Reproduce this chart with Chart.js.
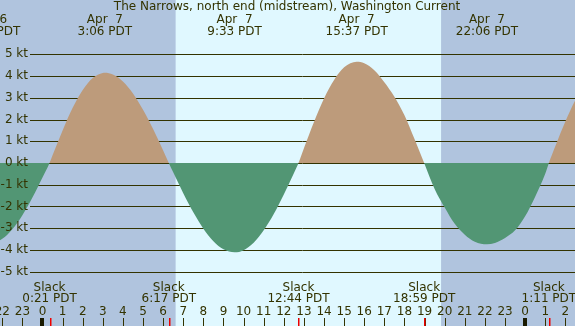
<!DOCTYPE html>
<html>
<head>
<meta charset="utf-8">
<script src="https://cdn.jsdelivr.net/npm/chart.js@4"></script>
<style>
  html, body { margin: 0; padding: 0; background: #b0c4de; }
  canvas { display: block; }
</style>
</head>
<body>
<canvas id="current" width="575" height="326"></canvas>
<script>
// hours from Apr 7 00:00 PDT, speed in knots
const hours = [-3.0, -2.65, -2.5, -2.0, -1.5, -1.0, -0.5, 0,
    0.35, 0.5, 1.0, 1.5, 2.0, 2.5, 3.0, 3.1, 3.5, 4.0, 4.5, 5.0, 5.5, 6.0, 6.28,
    6.5, 7.0, 7.5, 8.0, 8.5, 9.0, 9.55, 10.0, 10.5, 11.0, 11.5, 12.0, 12.5, 12.73,
    13.0, 13.5, 14.0, 14.5, 15.0, 15.62, 16.0, 16.5, 17.0, 17.5, 18.0, 18.5, 18.98,
    19.5, 20.0, 20.5, 21.0, 21.5, 22.1, 22.5, 23.0, 23.5, 24.0, 24.5, 25.0, 25.18,
    25.5, 26.0, 26.5, 27.0];
const knots = [-3.68, -3.7, -3.69, -3.49, -3.05, -2.40, -1.59, -0.67,
    0, 0.36, 1.50, 2.54, 3.36, 3.91, 4.14, 4.15, 4.07, 3.75, 3.20, 2.45, 1.56, 0.57, 0,
    -0.43, -1.39, -2.27, -3.02, -3.60, -3.97, -4.11, -4.01, -3.67, -3.10, -2.35, -1.45, -0.47, 0,
    0.68, 1.89, 2.97, 3.82, 4.40, 4.66, 4.59, 4.27, 3.72, 3.05, 2.2, 1.1, 0,
    -1.2, -2.05, -2.8, -3.3, -3.62, -3.74, -3.68, -3.45, -3.1, -2.45, -1.55, -0.5, 0,
    0.77, 1.91, 2.90, 3.67];

const maxHours = [-2.65, 3.10, 9.55, 15.62, 22.10];
const maxDays = ['Apr  6', 'Apr  7', 'Apr  7', 'Apr  7', 'Apr  7'];
const maxLabels = ['21:21 PDT', '3:06 PDT', '9:33 PDT', '15:37 PDT', '22:06 PDT'];

const slackHours = [0.35, 6.28, 12.73, 18.98, 25.18];
const slackLabels = ['0:21 PDT', '6:17 PDT', '12:44 PDT', '18:59 PDT', '1:11 PDT'];

const sunrise = 6.62;
const sunset = 19.82;
const kts = [5, 4, 3, 2, 1, 0, -1, -2, -3, -4, -5];

const ink = '#333300';
const font = '12px "DejaVu Sans"';

const drawing = {
    id: 'drawing',
    beforeDraw(chart) {
        const c = chart.ctx, x = chart.scales.x, a = chart.chartArea;
        c.save();
        c.fillStyle = '#b0c4de';
        c.fillRect(0, 0, chart.width, chart.height);
        c.fillStyle = '#e0f8ff';
        const x1 = x.getPixelForValue(sunrise), x2 = x.getPixelForValue(sunset);
        c.fillRect(x1, a.top, x2 - x1, a.bottom - a.top);
        c.restore();
    },
    beforeDatasetsDraw(chart) {
        const c = chart.ctx, y = chart.scales.y;
        c.save();
        c.strokeStyle = ink;
        c.lineWidth = 1;
        kts.forEach(k => {
            const py = Math.round(y.getPixelForValue(k)) + 0.5;
            c.beginPath();
            c.moveTo(30, py);
            c.lineTo(chart.width, py);
            c.stroke();
        });
        c.restore();
    },
    afterDatasetsDraw(chart) {
        const c = chart.ctx, x = chart.scales.x, y = chart.scales.y;
        c.save();
        c.fillStyle = ink;
        c.font = font;
        c.textBaseline = 'middle';

        // y labels
        c.textAlign = 'right';
        kts.forEach(k => c.fillText(k + ' kt', 28, y.getPixelForValue(k)));

        c.textAlign = 'center';
        c.fillText('The Narrows, north end (midstream), Washington Current', 287, 7);

        maxHours.forEach((h, i) => {
            const px = x.getPixelForValue(h);
            c.fillText(maxDays[i], px, 20);
            c.fillText(maxLabels[i], px, 32);
        });

        slackHours.forEach((h, i) => {
            const px = x.getPixelForValue(h);
            c.fillText('Slack', px, 288);
            c.fillText(slackLabels[i], px, 299);
        });

        // hour numbers and ticks
        for (let h = Math.ceil(x.min); h <= Math.floor(x.max); h++) {
            const px = x.getPixelForValue(h);
            c.fillStyle = ink;
            c.fillText(String((h + 24) % 24), px, 312);
            if (h % 24 === 0) {
                c.fillStyle = '#1a1a00';
                c.fillRect(Math.round(px) - 2, 318, 4, 8);
            } else {
                c.fillRect(Math.round(px), 318, 1, 8);
            }
        }
        c.fillStyle = '#ee0000';
        slackHours.forEach(h => {
            c.fillRect(Math.round(x.getPixelForValue(h)), 318, 1.5, 8);
        });
        c.restore();
    }
};

new Chart(document.getElementById('current'), {
    type: 'line',
    data: {
        datasets: [{
            data: hours.map((h, i) => ({ x: h, y: knots[i] })),
            borderWidth: 0,
            borderColor: 'rgba(0,0,0,0)',
            pointRadius: 0,
            cubicInterpolationMode: 'monotone',
            fill: { target: 'origin', above: '#bd9b7b', below: '#529674' }
        }]
    },
    options: {
        responsive: false,
        animation: false,
        devicePixelRatio: 1,
        layout: { padding: 0 },
        plugins: { legend: { display: false }, tooltip: { enabled: false } },
        scales: {
            x: { type: 'linear', display: false, min: -2.113, max: 26.48 },
            y: { type: 'linear', display: false, min: -7.5, max: 7.5 }
        }
    },
    plugins: [drawing]
});
</script>
</body>
</html>
